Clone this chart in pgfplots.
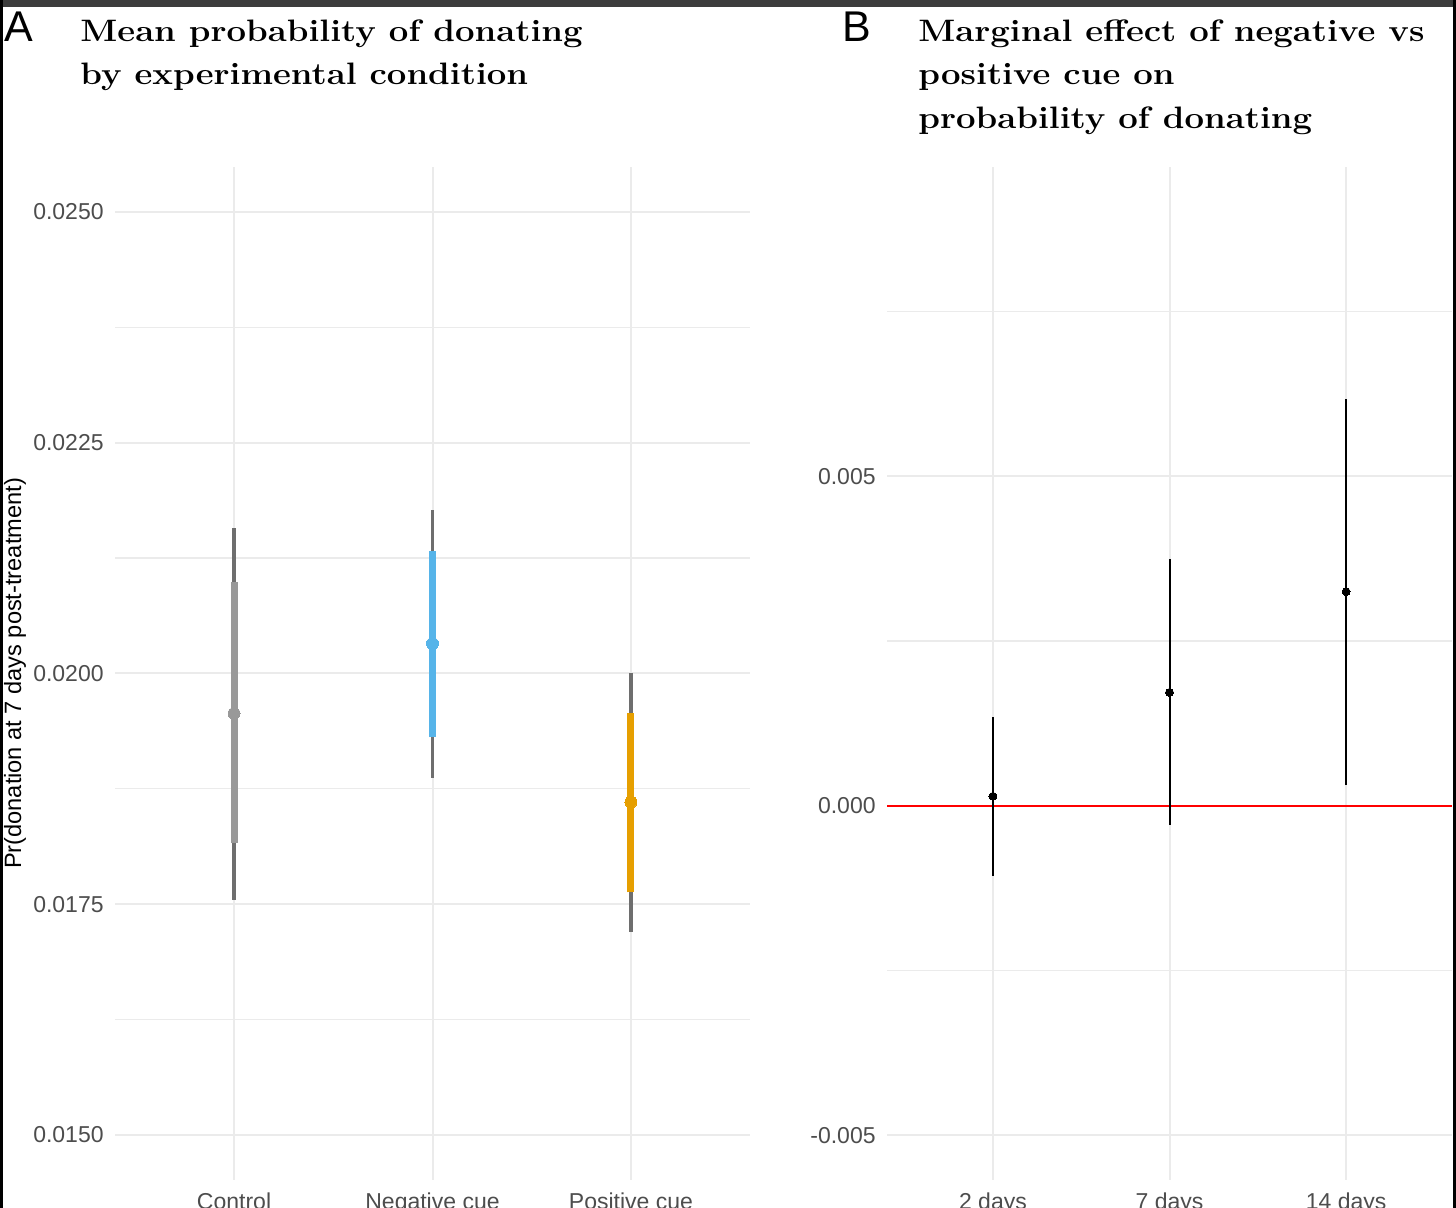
\documentclass[border=0pt]{standalone}
\usepackage{pgfplots}
\pgfplotsset{compat=1.18}
\usepackage{fontspec}
\setsansfont{Liberation Sans}
\definecolor{gridc}{HTML}{EBEBEB}
\definecolor{outerc}{HTML}{6E6E6E}
\definecolor{ctrlc}{HTML}{999999}
\definecolor{negc}{HTML}{56B4E9}
\definecolor{posc}{HTML}{E69F00}
\definecolor{topbar}{HTML}{3C3C3C}
\definecolor{tickc}{HTML}{4D4D4D}
\newcommand{\tickfont}{\sffamily\fontsize{11.5bp}{13bp}\selectfont}
\newcommand{\titlefont}{\fontsize{15.5bp}{18bp}\selectfont\bfseries}
\newcommand{\tline}[1]{\scalebox{1.12}[1]{#1}}
\pgfplotsset{
  panel/.style={
    scale only axis, anchor=south west, height=506.5bp,
    xmin=0.4, xmax=3.6, xtick={1,2,3},
    scaled y ticks=false, scaled x ticks=false,
    axis line style={draw=none},
    major tick length=0pt, minor tick length=0pt,
    grid=both,
    major grid style={gridc, line width=1bp},
    minor grid style={gridc, line width=0.6bp},
    minor y tick num=1,
    xticklabel style={font=\tickfont, text=tickc, inner sep=0pt, anchor=north, yshift=-6bp},
    yticklabel style={font=\tickfont, text=tickc, inner sep=0pt, anchor=east, xshift=-5.5bp},
    clip=false,
  }
}
\begin{document}
\begin{tikzpicture}[x=1bp,y=1bp]
\useasboundingbox (0,0) rectangle (728,604);
\fill[white] (0,0) rectangle (728,604);

% Panel A
\begin{axis}[panel, at={(57.5bp,14bp)}, width=317.5bp,
  ymin=0.014513, ymax=0.025487,
  ytick={0.015,0.0175,0.02,0.0225,0.025},
  yticklabels={0.0150,0.0175,0.0200,0.0225,0.0250},
  xticklabels={Control,Negative cue,Positive cue},
  ylabel={Pr(donation at 7 days post-treatment)},
  every axis y label/.style={at={(rel axis cs:0,0.5)}, xshift=-50bp, rotate=90, anchor=center,
    font=\sffamily\fontsize{11.8bp}{14bp}\selectfont},
]
% outer intervals
\addplot[outerc, line width=1.6bp] coordinates {(1,0.01755) (1,0.02158)};
\addplot[outerc, line width=1.6bp] coordinates {(2,0.01887) (2,0.02177)};
\addplot[outerc, line width=1.6bp] coordinates {(3,0.01720) (3,0.02000)};
% inner intervals
\addplot[ctrlc, line width=3.5bp] coordinates {(1,0.01816) (1,0.02099)};
\addplot[negc, line width=3.5bp] coordinates {(2,0.01931) (2,0.02133)};
\addplot[posc, line width=3.5bp] coordinates {(3,0.01763) (3,0.01957)};
% points
\addplot[color=ctrlc, only marks, mark=*, mark size=3bp, mark options={draw=ctrlc, fill=ctrlc, line width=0pt}] coordinates {(1,0.019567)};
\addplot[color=negc, only marks, mark=*, mark size=3bp, mark options={draw=negc, fill=negc, line width=0pt}] coordinates {(2,0.020325)};
\addplot[color=posc, only marks, mark=*, mark size=3bp, mark options={draw=posc, fill=posc, line width=0pt}] coordinates {(3,0.018607)};
\end{axis}

% Panel B
\begin{axis}[panel, at={(443.5bp,14bp)}, width=282.5bp,
  ymin=-0.005681, ymax=0.009692,
  ytick={-0.005,0,0.005},
  yticklabels={-0.005,0.000,0.005},
  minor ytick={-0.0025,0.0025,0.0075},
  xticklabels={2 days,7 days,14 days},
]
\addplot[red, line width=1bp] coordinates {(0.4,0) (3.6,0)};
\addplot[black, line width=1bp] coordinates {(1,-0.001062) (1,0.00134)};
\addplot[black, line width=1bp] coordinates {(2,-0.000293) (2,0.003741)};
\addplot[black, line width=1bp] coordinates {(3,0.000313) (3,0.006178)};
\addplot[color=black, only marks, mark=*, mark size=2bp, mark options={draw=black, fill=black, line width=0pt}] coordinates {(1,0.000142) (2,0.001719) (3,0.003246)};
\end{axis}

% titles
\node[anchor=base west, inner sep=0pt, font=\sffamily\fontsize{21.5bp}{24bp}\selectfont] at (2,583.1) {A};
\node[anchor=base west, inner sep=0pt, font=\titlefont] at (40,583.1) {\tline{Mean probability of donating}};
\node[anchor=base west, inner sep=0pt, font=\titlefont] at (40,561.5) {\tline{by experimental condition}};

\node[anchor=base west, inner sep=0pt, font=\sffamily\fontsize{21.5bp}{24bp}\selectfont] at (421,583.1) {B};
\node[anchor=base west, inner sep=0pt, font=\titlefont] at (459,583.1) {\tline{Marginal effect of negative vs}};
\node[anchor=base west, inner sep=0pt, font=\titlefont] at (459,561.5) {\tline{positive cue on}};
\node[anchor=base west, inner sep=0pt, font=\titlefont] at (459,539.8) {\tline{probability of donating}};

% frame
\fill[topbar] (0,600.25) rectangle (728,604);
\fill[black] (0,0) rectangle (1.5,604);
\fill[black] (726.5,0) rectangle (728,604);
\end{tikzpicture}
\end{document}
